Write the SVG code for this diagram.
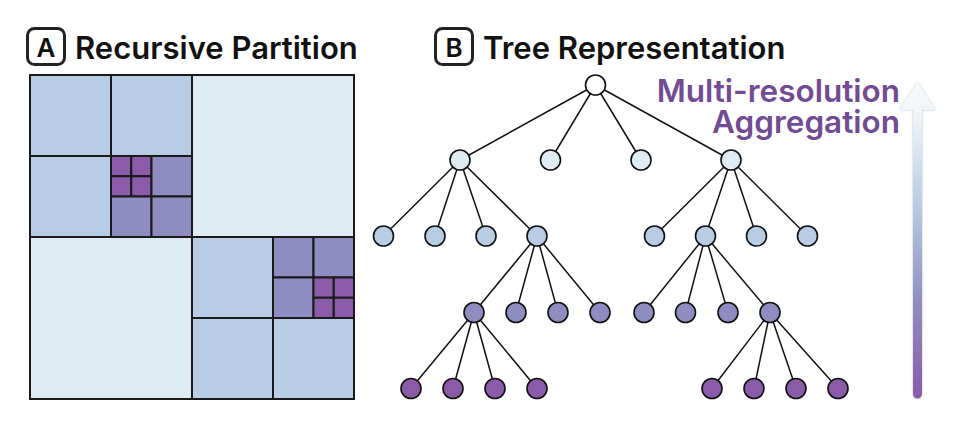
<svg xmlns="http://www.w3.org/2000/svg" width="960" height="427" viewBox="0 0 960 427">
<style>
  .title{font-family:Inter,"Liberation Sans",sans-serif;font-weight:600;font-size:31px;fill:#111}
  .lbl{font-family:Inter,"Liberation Sans",sans-serif;font-weight:600;font-size:26px;fill:#111;text-anchor:middle}
  .badge{fill:none;stroke:#222;stroke-width:3}
  .cell{stroke:#1a1a1a;stroke-width:2}
  .c0{fill:#ffffff}
  .c1{fill:#E0ECF4}
  .c2{fill:#B8CDE3}
  .c3{fill:#8F8CC0}
  .c4{fill:#8A5BA8}
  .edge{stroke:#111;stroke-width:1.5;fill:none}
  .node{stroke:#111;stroke-width:1.6}
  .agg{font-family:Inter,"Liberation Sans",sans-serif;font-weight:600;font-size:31.5px;fill:#714C93;text-anchor:end}
</style>
<defs>
  <linearGradient id="ag" x1="0" y1="82" x2="0" y2="399" gradientUnits="userSpaceOnUse">
    <stop offset="0" stop-color="#F8FAFC"/>
    <stop offset="0.12" stop-color="#EEF3F8"/>
    <stop offset="0.38" stop-color="#B8CDE3"/>
    <stop offset="0.7" stop-color="#8F8CC0"/>
    <stop offset="1" stop-color="#8A5BA8"/>
  </linearGradient>
  <filter id="sh" x="-50%" y="-10%" width="200%" height="120%">
    <feDropShadow dx="0" dy="0" stdDeviation="1.2" flood-color="#666" flood-opacity="0.45"/>
  </filter>
</defs>

<g id="title-a">
  <rect class="badge" x="27.5" y="28.5" width="37" height="36" rx="7"/>
  <text class="lbl" x="46" y="56.5">A</text>
  <text class="title" x="75" y="59">Recursive Partition</text>
</g>
<g id="title-b">
  <rect class="badge" x="435.5" y="28.5" width="37" height="36" rx="7"/>
  <text class="lbl" x="454" y="56.5">B</text>
  <text class="title" x="483" y="59">Tree Representation</text>
</g>

<g id="partition">
  <rect class="cell c2" x="30" y="75" width="81" height="81"/>
  <rect class="cell c2" x="111" y="75" width="81" height="81"/>
  <rect class="cell c2" x="30" y="156" width="81" height="81"/>
  <rect class="cell c4" x="111" y="156" width="20.25" height="20.25"/>
  <rect class="cell c4" x="131.25" y="156" width="20.25" height="20.25"/>
  <rect class="cell c4" x="111" y="176.25" width="20.25" height="20.25"/>
  <rect class="cell c4" x="131.25" y="176.25" width="20.25" height="20.25"/>
  <rect class="cell c3" x="151.5" y="156" width="40.5" height="40.5"/>
  <rect class="cell c3" x="111" y="196.5" width="40.5" height="40.5"/>
  <rect class="cell c3" x="151.5" y="196.5" width="40.5" height="40.5"/>
  <rect class="cell c1" x="192" y="75" width="162" height="162"/>
  <rect class="cell c1" x="30" y="237" width="162" height="162"/>
  <rect class="cell c2" x="192" y="237" width="81" height="81"/>
  <rect class="cell c3" x="273" y="237" width="40.5" height="40.5"/>
  <rect class="cell c3" x="313.5" y="237" width="40.5" height="40.5"/>
  <rect class="cell c3" x="273" y="277.5" width="40.5" height="40.5"/>
  <rect class="cell c4" x="313.5" y="277.5" width="20.25" height="20.25"/>
  <rect class="cell c4" x="333.75" y="277.5" width="20.25" height="20.25"/>
  <rect class="cell c4" x="313.5" y="297.75" width="20.25" height="20.25"/>
  <rect class="cell c4" x="333.75" y="297.75" width="20.25" height="20.25"/>
  <rect class="cell c2" x="192" y="318" width="81" height="81"/>
  <rect class="cell c2" x="273" y="318" width="81" height="81"/>
  <rect x="30" y="75" width="324" height="324" fill="none" stroke="#1a1a1a" stroke-width="2"/>
</g>

<g id="connectors">
  <line class="edge" x1="595.5" y1="85" x2="460" y2="160"/>
  <line class="edge" x1="595.5" y1="85" x2="550.5" y2="160"/>
  <line class="edge" x1="595.5" y1="85" x2="641" y2="160"/>
  <line class="edge" x1="595.5" y1="85" x2="731" y2="160"/>
  <line class="edge" x1="460" y1="160" x2="383.5" y2="236"/>
  <line class="edge" x1="460" y1="160" x2="435" y2="236"/>
  <line class="edge" x1="460" y1="160" x2="486" y2="236"/>
  <line class="edge" x1="460" y1="160" x2="537" y2="236"/>
  <line class="edge" x1="731" y1="160" x2="654.5" y2="236"/>
  <line class="edge" x1="731" y1="160" x2="705.5" y2="236"/>
  <line class="edge" x1="731" y1="160" x2="756.5" y2="236"/>
  <line class="edge" x1="731" y1="160" x2="807.5" y2="236"/>
  <line class="edge" x1="537" y1="236" x2="474" y2="312.5"/>
  <line class="edge" x1="537" y1="236" x2="516" y2="312.5"/>
  <line class="edge" x1="537" y1="236" x2="558" y2="312.5"/>
  <line class="edge" x1="537" y1="236" x2="600" y2="312.5"/>
  <line class="edge" x1="705.5" y1="236" x2="644" y2="312.5"/>
  <line class="edge" x1="705.5" y1="236" x2="685.5" y2="312.5"/>
  <line class="edge" x1="705.5" y1="236" x2="728" y2="312.5"/>
  <line class="edge" x1="705.5" y1="236" x2="770" y2="312.5"/>
  <line class="edge" x1="474" y1="312.5" x2="411" y2="388.5"/>
  <line class="edge" x1="474" y1="312.5" x2="453" y2="388.5"/>
  <line class="edge" x1="474" y1="312.5" x2="495" y2="388.5"/>
  <line class="edge" x1="474" y1="312.5" x2="537" y2="388.5"/>
  <line class="edge" x1="770" y1="312.5" x2="712" y2="388.5"/>
  <line class="edge" x1="770" y1="312.5" x2="754" y2="388.5"/>
  <line class="edge" x1="770" y1="312.5" x2="796" y2="388.5"/>
  <line class="edge" x1="770" y1="312.5" x2="838" y2="388.5"/>
</g>

<g id="n-root"><circle class="node c0" cx="595.5" cy="85" r="10"/></g>
<g id="n-1a"><circle class="node c1" cx="460" cy="160" r="10"/></g>
<g id="n-1b"><circle class="node c1" cx="550.5" cy="160" r="10"/></g>
<g id="n-1c"><circle class="node c1" cx="641" cy="160" r="10"/></g>
<g id="n-1d"><circle class="node c1" cx="731" cy="160" r="10"/></g>
<g id="n-2a"><circle class="node c2" cx="383.5" cy="236" r="10"/></g>
<g id="n-2b"><circle class="node c2" cx="435" cy="236" r="10"/></g>
<g id="n-2c"><circle class="node c2" cx="486" cy="236" r="10"/></g>
<g id="n-2d"><circle class="node c2" cx="537" cy="236" r="10"/></g>
<g id="n-2e"><circle class="node c2" cx="654.5" cy="236" r="10"/></g>
<g id="n-2f"><circle class="node c2" cx="705.5" cy="236" r="10"/></g>
<g id="n-2g"><circle class="node c2" cx="756.5" cy="236" r="10"/></g>
<g id="n-2h"><circle class="node c2" cx="807.5" cy="236" r="10"/></g>
<g id="n-3a"><circle class="node c3" cx="474" cy="312.5" r="10"/></g>
<g id="n-3b"><circle class="node c3" cx="516" cy="312.5" r="10"/></g>
<g id="n-3c"><circle class="node c3" cx="558" cy="312.5" r="10"/></g>
<g id="n-3d"><circle class="node c3" cx="600" cy="312.5" r="10"/></g>
<g id="n-3e"><circle class="node c3" cx="644" cy="312.5" r="10"/></g>
<g id="n-3f"><circle class="node c3" cx="685.5" cy="312.5" r="10"/></g>
<g id="n-3g"><circle class="node c3" cx="728" cy="312.5" r="10"/></g>
<g id="n-3h"><circle class="node c3" cx="770" cy="312.5" r="10"/></g>
<g id="n-4a"><circle class="node c4" cx="411" cy="388.5" r="10"/></g>
<g id="n-4b"><circle class="node c4" cx="453" cy="388.5" r="10"/></g>
<g id="n-4c"><circle class="node c4" cx="495" cy="388.5" r="10"/></g>
<g id="n-4d"><circle class="node c4" cx="537" cy="388.5" r="10"/></g>
<g id="n-4e"><circle class="node c4" cx="712" cy="388.5" r="10"/></g>
<g id="n-4f"><circle class="node c4" cx="754" cy="388.5" r="10"/></g>
<g id="n-4g"><circle class="node c4" cx="796" cy="388.5" r="10"/></g>
<g id="n-4h"><circle class="node c4" cx="838" cy="388.5" r="10"/></g>

<g id="aggregation">
  <path d="M917.5 82 L935.5 110 L922 110 L922 394 A4.5 4.5 0 0 1 913 394 L913 110 L899.5 110 Z" fill="url(#ag)" filter="url(#sh)"/>
  <text class="agg" x="900" y="102">Multi-resolution</text>
  <text class="agg" x="900" y="133">Aggregation</text>
</g>
</svg>
